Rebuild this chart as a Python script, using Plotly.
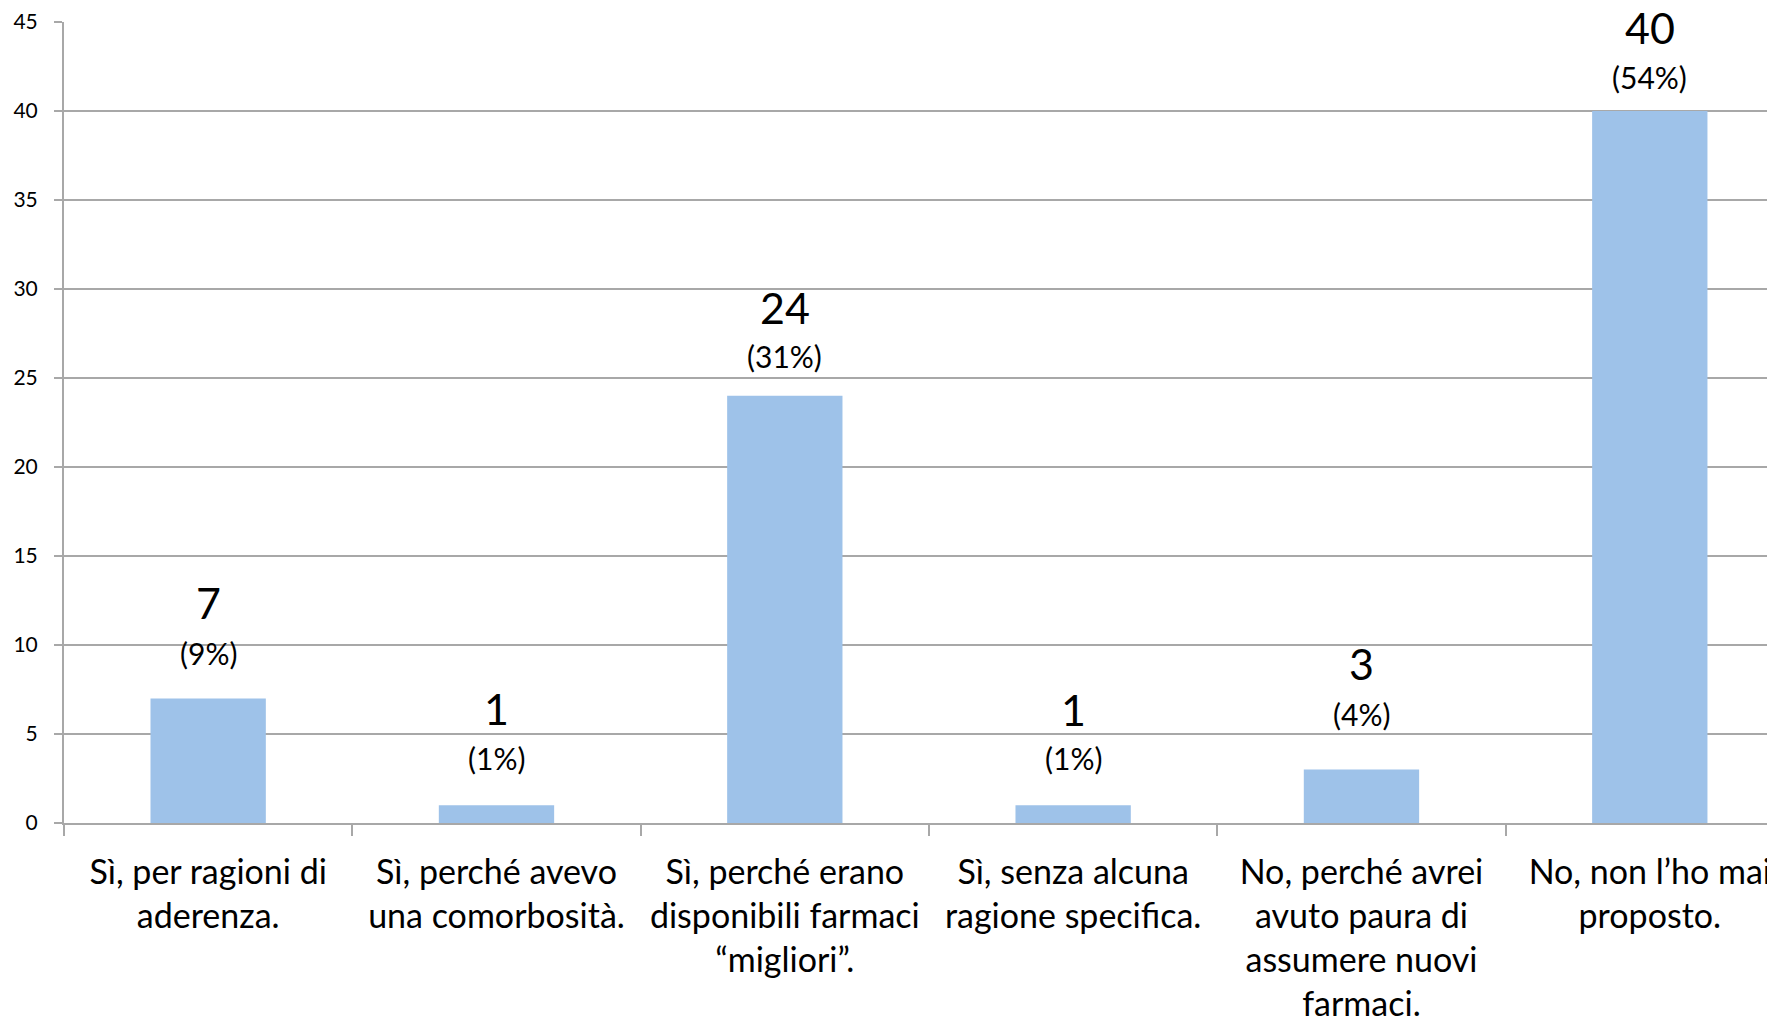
import plotly.graph_objects as go

categories = [
    "Sì, per ragioni di<br>aderenza.",
    "Sì, perché avevo<br>una comorbosità.",
    "Sì, perché erano<br>disponibili farmaci<br>“migliori”.",
    "Sì, senza alcuna<br>ragione specifica.",
    "No, perché avrei<br>avuto paura di<br>assumere nuovi<br>farmaci.",
    "No, non l’ho mai<br>proposto.",
]
counts = [7, 1, 24, 1, 3, 40]
percents = [9, 1, 31, 1, 4, 54]
y_ticks = [0, 5, 10, 15, 20, 25, 30, 35, 40, 45]

# style: pixel distance of the hand-placed labels above each bar top
count_label_shift = [96, 97, 88, 96, 106, 84]
pct_label_shift = [45, 47, 40, 47, 56, 34]

FONT = "Lato, 'Open Sans', sans-serif"
GRID = "#A8A8A8"
BAR = "#9EC2E9"

fig = go.Figure()
fig.add_trace(go.Bar(
    x=categories, y=counts,
    marker=dict(color=BAR, line=dict(width=0)),
    width=0.4,
    hoverinfo="skip",
))

for cat, c, p, s1, s2 in zip(categories, counts, percents,
                             count_label_shift, pct_label_shift):
    fig.add_annotation(x=cat, y=c, text=str(c), showarrow=False,
                       yanchor="middle", yshift=s1,
                       font=dict(family=FONT, size=43, color="black"))
    fig.add_annotation(x=cat, y=c, text=f"({p}%)", showarrow=False,
                       yanchor="middle", yshift=s2,
                       font=dict(family=FONT, size=30, color="black"))

fig.update_layout(
    width=1775, height=1020,
    margin=dict(l=56, r=0, t=14, b=205, pad=0),
    paper_bgcolor="white", plot_bgcolor="white",
    showlegend=False,
    font=dict(family=FONT, color="black"),
    bargap=0.6,
)
fig.update_xaxes(
    type="category",
    range=[-0.5, 5.462],
    automargin=False,
    showline=True, linecolor=GRID, linewidth=2,
    ticks="outside", tickson="boundaries", ticklen=11, tickcolor=GRID, tickwidth=2,
    showgrid=False,
    tickfont=dict(family=FONT, size=34, color="black"),
    ticklabelstandoff=18,
)
fig.update_yaxes(
    range=[0, 45],
    tickvals=y_ticks,
    automargin=False,
    showline=True, linecolor=GRID, linewidth=2,
    ticks="outside", ticklen=8, tickcolor=GRID, tickwidth=2,
    showgrid=True, gridcolor=GRID, gridwidth=2,
    zeroline=False,
    tickfont=dict(family=FONT, size=21, color="black"),
    ticklabelstandoff=12,
)

fig.write_html("out.html")
